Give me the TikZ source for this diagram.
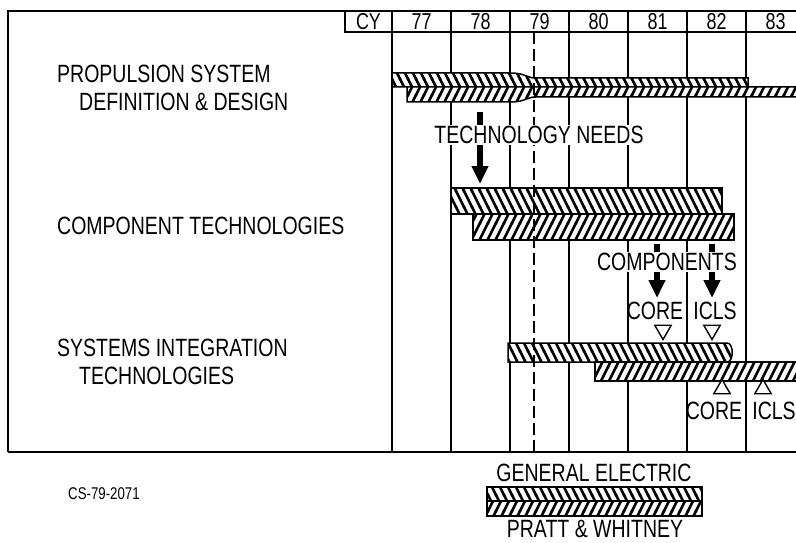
\documentclass[tikz,border=0pt]{standalone}
\usepackage{fontspec}
\setmainfont{Liberation Sans}[FakeStretch=0.78]
\usetikzlibrary{arrows.meta, patterns, shapes.geometric}

% heavy, steep hatches for the two contractors
\pgfdeclarepatternformonly{geHatch}{\pgfqpoint{-2pt}{-2pt}}{\pgfqpoint{10pt}{18pt}}{\pgfqpoint{8pt}{16pt}}{%
  \pgfsetlinewidth{2.6pt}%
  \pgfpathmoveto{\pgfqpoint{-0.4pt}{16.8pt}}%
  \pgfpathlineto{\pgfqpoint{8.4pt}{-0.8pt}}%
  \pgfusepath{stroke}}
\pgfdeclarepatternformonly{pwHatch}{\pgfqpoint{-2pt}{-2pt}}{\pgfqpoint{10pt}{18pt}}{\pgfqpoint{8pt}{16pt}}{%
  \pgfsetlinewidth{2.6pt}%
  \pgfpathmoveto{\pgfqpoint{-0.4pt}{-0.8pt}}%
  \pgfpathlineto{\pgfqpoint{8.4pt}{16.8pt}}%
  \pgfusepath{stroke}}

\begin{document}
\begin{tikzpicture}[x=1pt, y=-1pt,
    txt/.style={font=\fontsize{25}{28}\selectfont, inner sep=1pt, align=left},
    hdr/.style={font=\fontsize{23}{24}\selectfont, inner sep=0pt},
    tag/.style={font=\fontsize{25}{28}\selectfont, inner sep=1.5pt, fill=white},
    frameLine/.style={line width=1.6pt},
    yearLine/.style={line width=1.3pt},
    geBar/.style={draw, line width=1.5pt, preaction={fill=white}, pattern=geHatch},
    pwBar/.style={draw, line width=1.5pt, preaction={fill=white}, pattern=pwHatch},
    needArrow/.style={line width=6pt, -{Triangle[length=18pt, width=16pt]}},
    downTri/.style={draw, line width=1.4pt, fill=white, regular polygon, regular polygon sides=3,
      shape border rotate=180, minimum size=19pt, inner sep=0pt},
    upTri/.style={draw, line width=1.4pt, fill=white, regular polygon, regular polygon sides=3,
      minimum size=19pt, inner sep=0pt}]
  \useasboundingbox (0,0) rectangle (796,543);
  \clip (0,0) rectangle (796,543);

  % frame and calendar years
  \draw[frameLine] (8,452) -- (8,11) -- (810,11);
  \draw[frameLine] (8,452) -- (810,452);
  \draw[frameLine] (345,11) -- (345,32) -- (810,32);
  \node[hdr] (cy) at (368.5,22) {CY};
  \foreach \i in {0,...,7}
    \draw[yearLine] (392+\i*59,11) -- (392+\i*59,452);
  \foreach \yr [count=\i from 0] in {77,...,83}
    \node[hdr] (yr\yr) at (421.5+\i*59,22) {\yr};

  % propulsion system definition & design
  \draw[geBar] (392,73) -- (510,73) .. controls (526,73) and (526,78) .. (536,78)
    -- (748,78) -- (748,87) -- (392,87) -- cycle;
  \draw[pwBar] (407,87) -- (810,87) -- (810,97) -- (536,97)
    .. controls (526,97) and (526,102) .. (510,102) -- (407,102) -- cycle;

  % component technologies
  \draw[geBar] (451,188) rectangle (722,214);
  \draw[pwBar] (473,214) rectangle (734,240);

  % systems integration technologies
  \draw[geBar] (508,343) -- (727,343) .. controls (734,343) and (734,362) .. (727,362) -- (508,362) -- cycle;
  \draw[pwBar] (595,362) rectangle (810,381);

  \draw[line width=1.6pt, dash pattern=on 12pt off 5pt] (534,32) -- (534,452);

  % arrows
  \coordinate (needsTop) at (480,112);
  \coordinate (needsTip) at (480,184);
  \coordinate (coreTop) at (657,244);
  \coordinate (coreTip) at (657,298);
  \coordinate (iclsTop) at (712,244);
  \coordinate (iclsTip) at (712,298);
  \draw[needArrow] (needsTop) -- (needsTip);
  \draw[needArrow] (coreTop) -- (coreTip);
  \draw[needArrow] (iclsTop) -- (iclsTip);

  \node[tag] (needs) at (539,135) {TECHNOLOGY NEEDS};
  \node[tag] (comps) at (667,262) {COMPONENTS};
  \node[txt] (coreA) at (655,311) {CORE};
  \node[txt] (iclsA) at (715,311) {ICLS};
  \node[downTri] (coreDown) at (663,330) {};
  \node[downTri] (iclsDown) at (712,330) {};
  \node[upTri] (coreUp) at (722,389) {};
  \node[upTri] (iclsUp) at (763,389) {};
  \node[txt] (coreB) at (714,411) {CORE};
  \node[txt] (iclsB) at (774,411) {ICLS};

  % row titles
  \node[txt, anchor=west] (propTitle) at (56,88) {PROPULSION SYSTEM\\\hspace*{22pt}DEFINITION \& DESIGN};
  \node[txt, anchor=west] (compTitle) at (56,226) {COMPONENT TECHNOLOGIES};
  \node[txt, anchor=west] (sysTitle) at (56,362) {SYSTEMS INTEGRATION\\\hspace*{22pt}TECHNOLOGIES};

  % legend
  \node[txt] (geName) at (594,473) {GENERAL ELECTRIC};
  \draw[geBar] (487,487) rectangle (702,501);
  \draw[pwBar] (487,501) rectangle (702,516);
  \node[txt] (pwName) at (595,529) {PRATT \& WHITNEY};
  \node[font=\fontsize{17}{19}\selectfont, anchor=west, inner sep=0pt] (figId) at (68,494) {CS-79-2071};
\end{tikzpicture}
\end{document}
